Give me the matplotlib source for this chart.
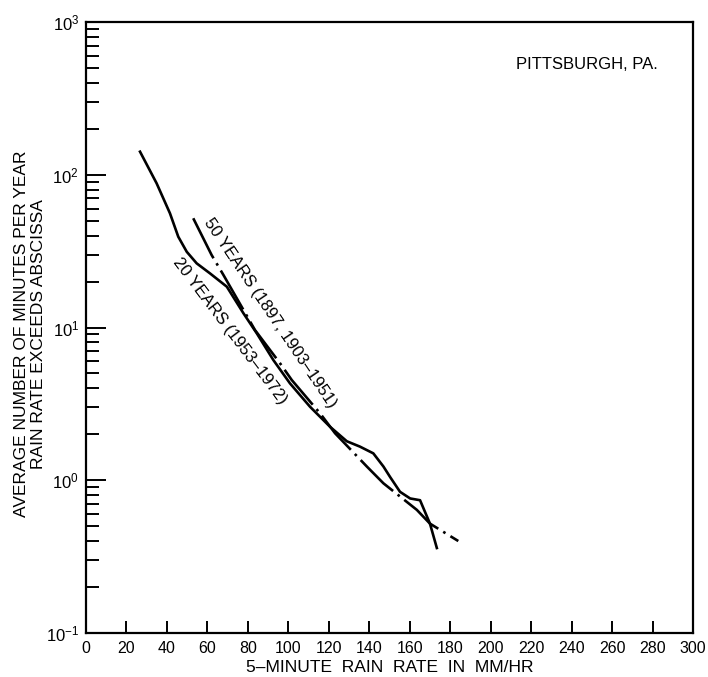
import matplotlib
matplotlib.use("Agg")
import matplotlib.pyplot as plt
from matplotlib.ticker import LogLocator, NullFormatter

plt.rcParams["font.family"] = ["Liberation Sans", "DejaVu Sans"]
plt.rcParams["mathtext.fontset"] = "custom"
plt.rcParams["mathtext.rm"] = "Liberation Sans"
plt.rcParams["mathtext.it"] = "Liberation Sans:italic"

# 20-year record (1953-1972), solid curve
rate_20 = [26.7, 34.9, 41.5, 45.6, 49.8, 54.7, 61.3, 69.6, 77.8, 84.4, 92.6, 100.8,
           110.7, 120.6, 128.9, 135.4, 142.0, 147.0, 150.3, 155.2, 160.2, 165.1,
           170.0, 173.4]
mins_20 = [141.6, 87.9, 55.9, 39.3, 31.3, 26.3, 22.6, 18.5, 12.4, 9.16, 6.12, 4.31,
           3.03, 2.24, 1.80, 1.66, 1.50, 1.23, 1.05, 0.84, 0.76, 0.74,
           0.52, 0.36]

# 50-year record (1897, 1903-1951), dash-dot curve
rate_50 = [53, 62.1, 67.9, 83.5, 95.9, 101.7, 115.7, 123.1, 138.8, 147, 163.5, 170, 184]
mins_50 = [51.9, 29.8, 22.1, 9.63, 5.83, 4.53, 2.74, 2.03, 1.23, 0.955, 0.64, 0.52, 0.40]

x_ticks = list(range(0, 301, 20))

fig = plt.figure(figsize=(7.08, 6.77), dpi=100)
ax = fig.add_axes([86 / 708, 1 - 633 / 677, 607 / 708, 611 / 677])

ax.plot(rate_20, mins_20, color="black", lw=1.9, solid_joinstyle="round")
ax.plot(rate_50, mins_50, color="black", lw=1.9, ls=(0, (17, 2.2, 1.0, 2.2)))

ax.set_yscale("log")
ax.set_xlim(0, 300)
ax.set_ylim(0.1, 1000)
ax.set_xticks(x_ticks)
ax.yaxis.set_major_locator(LogLocator(base=10, numticks=10))
ax.yaxis.set_minor_locator(LogLocator(base=10, subs=range(2, 10), numticks=20))
ax.yaxis.set_minor_formatter(NullFormatter())

for s in ax.spines.values():
    s.set_linewidth(1.6)
ax.tick_params(axis="x", which="major", direction="in", length=8.5, width=1.4,
               labelsize=11.5, pad=6, top=False)
ax.tick_params(axis="y", which="major", direction="in", length=14.5, width=1.4,
               labelsize=12, pad=5, right=False)
ax.tick_params(axis="y", which="minor", direction="in", length=9.5, width=1.4, right=False)

ax.set_xlabel("5\u2013MINUTE  RAIN  RATE  IN  MM/HR", fontsize=12.5, labelpad=3)
ax.set_ylabel("AVERAGE NUMBER OF MINUTES PER YEAR\nRAIN RATE EXCEEDS ABSCISSA",
              fontsize=12.5, linespacing=1.15)
ax.yaxis.set_label_coords(-0.066, 0.49)

ax.text(0.825, 0.93, "PITTSBURGH, PA.", transform=ax.transAxes, fontsize=12,
        ha="center", va="center")
ax.text(91, 12.4, "50 YEARS (1897, 1903\u20131951)", fontsize=12, rotation=-56,
        ha="center", va="center", rotation_mode="anchor")
ax.text(71.2, 9.5, "20 YEARS (1953\u20131972)", fontsize=12, rotation=-53,
        ha="center", va="center", rotation_mode="anchor")

fig.savefig("out.png", dpi=100)
